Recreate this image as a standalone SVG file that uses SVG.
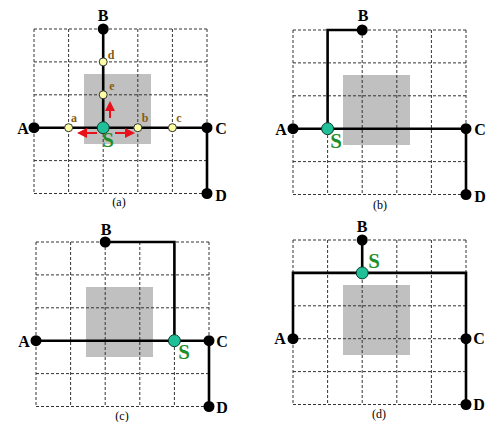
<svg xmlns="http://www.w3.org/2000/svg" width="490" height="422" viewBox="0 0 490 422">
<style>
.grid{fill:none;stroke:#333;stroke-width:1;stroke-dasharray:3 2}
.gray{fill:#c0c0c0}
.wire{fill:none;stroke:#000;stroke-width:2.6;stroke-linejoin:miter}
.blk{fill:#000}
.sdot{fill:#1fbf98;stroke:#0b3b2b;stroke-width:1}
.ydot{fill:#ffffa6;stroke:#333;stroke-width:1}
.lbl{font-family:"Liberation Serif",serif;font-weight:bold;font-size:16px;fill:#000;text-anchor:middle}
.slbl{font-family:"Liberation Serif",serif;font-weight:bold;font-size:21px;fill:#1f8f2a;text-anchor:middle}
.ylbl{font-family:"Liberation Serif",serif;font-weight:bold;font-size:12px;fill:#8a5a10;text-anchor:middle}
.cap{font-family:"Liberation Serif",serif;font-size:12px;fill:#000;text-anchor:middle}
.arr{fill:none;stroke:#e8101a;stroke-width:2;marker-end:url(#ah)}
</style>
<defs>
<marker id="ah" viewBox="0 0 10 10" refX="8" refY="5" markerWidth="5" markerHeight="5" orient="auto" markerUnits="strokeWidth">
<path d="M0,0 L10,5 L0,10 z" fill="#e8101a"/>
</marker>
<g id="panelbg">
<rect class="gray" x="50" y="45" width="67" height="70"/>
<path class="grid" d="M0,0 V164.5 M34.6,0 V164.5 M69.2,0 V164.5 M103.8,0 V164.5 M138.4,0 V164.5 M173,0 V164.5 M0,0 H173 M0,32.9 H173 M0,65.8 H173 M0,98.7 H173 M0,131.6 H173 M0,164.5 H173"/>
</g>
</defs>

<!-- Panel (a) -->
<g id="panel-a" transform="translate(34,29)">
<use href="#panelbg"/>
<g id="connectors-a">
<path class="wire" d="M0,98.7 H173 V164.5"/>
<path class="wire" d="M69.2,0 V98.7"/>
<path class="arr" d="M76,89 V74"/>
<path class="arr" d="M63,104 H45"/>
<path class="arr" d="M81,104 H99"/>
</g>
<g id="a-A"><circle class="blk" cx="0" cy="98.7" r="5.5"/><text class="lbl" x="-11" y="104.5">A</text></g>
<g id="a-B"><circle class="blk" cx="69.2" cy="0" r="5.5"/><text class="lbl" x="69" y="-8">B</text></g>
<g id="a-C"><circle class="blk" cx="173" cy="98.7" r="5.5"/><text class="lbl" x="187" y="104.5">C</text></g>
<g id="a-D"><circle class="blk" cx="173" cy="164.5" r="5.5"/><text class="lbl" x="187" y="172">D</text></g>
<g id="a-a"><circle class="ydot" cx="34.6" cy="98.7" r="4"/><text class="ylbl" x="40" y="93">a</text></g>
<g id="a-b"><circle class="ydot" cx="103.8" cy="98.7" r="4"/><text class="ylbl" x="111" y="93">b</text></g>
<g id="a-c"><circle class="ydot" cx="138.4" cy="98.7" r="4"/><text class="ylbl" x="145" y="93">c</text></g>
<g id="a-d"><circle class="ydot" cx="69.2" cy="32.9" r="4"/><text class="ylbl" x="77" y="30">d</text></g>
<g id="a-e"><circle class="ydot" cx="69.2" cy="65.8" r="4"/><text class="ylbl" x="78" y="61">e</text></g>
<g id="a-S"><circle class="sdot" cx="69.2" cy="98.7" r="6"/><text class="slbl" x="74" y="118">S</text></g>
<text class="cap" x="85" y="177">(a)</text>
</g>

<!-- Panel (b) -->
<g id="panel-b" transform="translate(293,30)">
<use href="#panelbg"/>
<g id="connectors-b">
<path class="wire" d="M0,98.7 H173 V164.5"/>
<path class="wire" d="M34.6,98.7 V0 H69.2"/>
</g>
<g id="b-A"><circle class="blk" cx="0" cy="98.7" r="5.5"/><text class="lbl" x="-12" y="104.5">A</text></g>
<g id="b-B"><circle class="blk" cx="69.2" cy="0" r="5.5"/><text class="lbl" x="70" y="-9">B</text></g>
<g id="b-C"><circle class="blk" cx="173" cy="98.7" r="5.5"/><text class="lbl" x="187" y="104.5">C</text></g>
<g id="b-D"><circle class="blk" cx="173" cy="164.5" r="5.5"/><text class="lbl" x="187" y="172">D</text></g>
<g id="b-S"><circle class="sdot" cx="34.6" cy="98.7" r="6"/><text class="slbl" x="43" y="118">S</text></g>
<text class="cap" x="87" y="179">(b)</text>
</g>

<!-- Panel (c) -->
<g id="panel-c" transform="translate(36,242)">
<use href="#panelbg"/>
<g id="connectors-c">
<path class="wire" d="M0,98.7 H173 V164.5"/>
<path class="wire" d="M69.2,0 H138.4 V98.7"/>
</g>
<g id="c-A"><circle class="blk" cx="0" cy="98.7" r="5.5"/><text class="lbl" x="-12" y="104.5">A</text></g>
<g id="c-B"><circle class="blk" cx="69.2" cy="0" r="5.5"/><text class="lbl" x="70" y="-7">B</text></g>
<g id="c-C"><circle class="blk" cx="173" cy="98.7" r="5.5"/><text class="lbl" x="186" y="104.5">C</text></g>
<g id="c-D"><circle class="blk" cx="173" cy="164.5" r="5.5"/><text class="lbl" x="186" y="171">D</text></g>
<g id="c-S"><circle class="sdot" cx="138.4" cy="98.7" r="6"/><text class="slbl" x="148" y="117">S</text></g>
<text class="cap" x="86" y="178">(c)</text>
</g>

<!-- Panel (d) -->
<g id="panel-d" transform="translate(293,240)">
<use href="#panelbg"/>
<g id="connectors-d">
<path class="wire" d="M0,98.7 V32.9 H173 V164.5"/>
<path class="wire" d="M69.2,0 V32.9"/>
</g>
<g id="d-A"><circle class="blk" cx="0" cy="98.7" r="5.5"/><text class="lbl" x="-13" y="104">A</text></g>
<g id="d-B"><circle class="blk" cx="69.2" cy="0" r="5.5"/><text class="lbl" x="69" y="-8">B</text></g>
<g id="d-C"><circle class="blk" cx="173" cy="98.7" r="5.5"/><text class="lbl" x="186" y="104">C</text></g>
<g id="d-D"><circle class="blk" cx="173" cy="164.5" r="5.5"/><text class="lbl" x="186" y="170">D</text></g>
<g id="d-S"><circle class="sdot" cx="69.2" cy="32.9" r="6"/><text class="slbl" x="81" y="28">S</text></g>
<text class="cap" x="86" y="178">(d)</text>
</g>
</svg>
